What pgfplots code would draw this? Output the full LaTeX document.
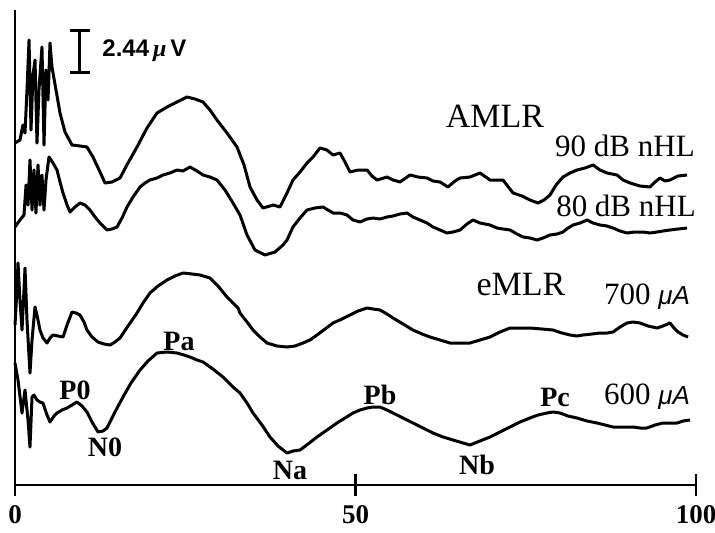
\documentclass[border=0pt]{standalone}
\usepackage{fontspec}
\setmainfont{Liberation Serif}
\setsansfont{Liberation Sans}
\usepackage{pgfplots}
\pgfplotsset{compat=1.18}

% traces: time (ms) vs. display offset (y in plot units, 42 units = 2.44 uV)
\pgfplotstableread{
x y
0 342
0.73 345
1.17 360
1.47 352
1.76 395
2.06 445
2.35 355
2.64 410
2.94 425
3.23 342
3.52 395
3.96 438
4.26 340
4.55 415
4.85 385
5.14 442
5.43 418
6.02 395
6.61 372
7.34 353
8.37 340
9.54 339
10.57 338
11.45 328
12.48 313
13.22 302
14.24 303
15.42 307
16.59 322
17.92 338
19.38 357
20.85 372
22.32 378
23.79 383
25.26 388
26.43 386
27.61 383
28.63 375
29.66 365
31.13 352
32.60 338
33.63 320
34.51 298
35.54 285
36.42 277
37.44 279
37.89 280
38.91 278
39.94 292
40.82 305
41.85 313
42.88 322
43.76 328
44.79 337
45.81 335
46.70 330
47.72 332
48.46 323
49.19 313
50.37 315
51.69 315
52.42 309
53.16 305
54.63 308
55.51 305
56.53 303
58.00 310
59.18 308
60.50 307
61.38 304
62.41 303
63.58 298
64.61 304
65.35 307
66.81 308
68.28 312
69.75 305
71.66 305
73.13 292
74.45 289
75.62 285
76.80 282
77.68 285
78.56 290
79.44 300
80.47 308
81.50 312
82.53 315
83.70 317
84.88 320
85.90 315
86.93 312
88.40 310
89.28 305
90.31 302
91.78 299
93.25 298
93.98 303
94.71 307
95.45 304
96.18 305
97.36 309
98.68 310
}\dbninety

\pgfplotstableread{
x y
0 258
0.73 265
1.32 270
1.62 300
1.91 280
2.20 325
2.50 275
2.79 315
3.08 272
3.38 320
3.67 280
3.96 310
4.26 275
4.55 305
4.99 328
5.58 322
6.17 315
6.61 303
7.05 292
7.64 280
8.08 273
8.81 278
9.54 282
10.28 280
11.01 275
11.75 268
12.48 262
13.51 255
14.24 256
14.98 258
15.71 267
16.45 278
17.33 288
18.36 298
19.09 302
19.82 305
20.85 307
21.73 310
22.76 312
23.79 315
24.67 314
25.70 318
26.73 314
27.61 310
28.63 308
29.66 305
30.84 295
32.01 282
33.04 270
34.07 250
35.24 235
36.71 230
38.18 233
39.35 240
39.94 245
40.82 258
41.85 267
42.88 275
44.05 277
45.23 278
45.96 275
46.70 272
47.72 272
48.75 270
49.63 265
50.66 263
51.69 266
52.57 267
53.60 266
54.63 268
55.51 269
56.53 271
57.56 272
58.44 268
59.47 265
60.50 262
61.38 258
62.41 255
63.44 252
64.32 253
65.35 255
66.37 261
67.25 265
68.28 262
69.75 260
70.78 257
71.66 256
72.69 255
73.72 251
74.60 248
75.62 247
76.65 245
77.53 247
78.56 250
79.59 251
80.47 253
81.20 257
81.94 260
82.97 262
84.00 265
84.88 262
85.90 260
86.93 259
87.81 257
88.84 254
89.87 252
91.04 253
92.22 253
93.25 252
94.27 253
95.15 254
96.18 255
97.36 256
98.68 257
}\dbeighty

\pgfplotstableread{
x y
0 160
0.29 195
0.44 222
0.73 185
1.03 155
1.32 195
1.47 217
1.76 165
2.20 112
2.50 145
2.94 178
3.23 170
3.67 155
4.11 147
4.70 142
5.14 147
5.58 150
6.31 149
7.05 148
7.64 160
8.37 173
8.96 172
9.54 170
10.13 163
10.57 155
11.31 148
12.19 143
13.07 141
13.95 140
14.68 143
15.42 147
16.59 159
17.92 172
18.80 182
19.82 192
21.00 199
22.32 205
23.49 209
24.67 212
25.99 211
27.17 210
28.63 207
29.81 199
31.13 188
32.75 177
33.04 172
34.07 163
34.95 155
35.98 148
37.00 142
38.47 139
39.94 138
41.12 139
42.29 142
43.32 145
44.35 150
45.52 156
46.70 162
48.02 166
49.19 170
50.37 174
51.69 177
52.57 176
53.60 175
54.63 171
55.51 167
56.98 161
58.44 155
59.77 151
60.94 148
62.41 145
63.88 142
65.35 142
66.81 142
68.28 145
69.75 148
71.22 153
72.69 157
74.16 157
75.62 157
77.39 156
79.00 155
80.32 152
81.50 150
82.53 149
83.41 150
84.73 151
85.90 152
86.93 152
87.81 153
88.84 158
89.87 162
90.75 163
91.78 162
92.95 159
94.27 157
95.15 159
96.18 162
96.77 157
97.36 153
98.09 150
98.83 148
}\uaseven

\pgfplotstableread{
x y
0 122
0.44 105
1.03 72
1.47 95
1.91 65
2.20 38
2.50 88
2.79 90
3.23 85
3.67 83
4.11 82
4.70 70
5.14 63
5.73 69
6.17 72
6.90 75
7.64 77
8.37 80
9.10 83
9.84 79
10.57 73
11.31 63
12.19 53
12.92 54
13.51 57
14.68 73
15.86 88
17.03 102
18.36 115
19.53 124
20.85 132
22.32 133
23.79 132
24.82 130
25.70 128
26.73 125
27.61 123
29.07 116
30.54 108
32.01 98
33.04 92
34.07 82
34.95 72
36.27 60
37.44 48
38.62 39
39.94 32
40.82 34
41.85 35
43.02 41
44.35 48
45.81 55
47.28 62
48.46 67
49.63 72
50.66 75
51.69 77
52.57 78
53.60 78
54.63 75
55.51 72
56.98 67
58.44 62
59.91 57
61.38 52
62.85 48
64.32 45
65.79 42
66.81 40
68.28 44
69.75 48
71.22 53
72.69 58
74.16 63
75.62 67
76.80 70
78.12 72
79.00 73
80.03 72
81.20 69
82.53 67
84.00 64
85.46 62
86.64 60
87.81 58
89.28 58
90.75 58
91.78 57
92.80 57
93.98 60
95.15 62
96.18 62
97.21 62
98.09 64
99.12 65
}\uasix

\begin{document}
\begin{tikzpicture}[peak/.style={font=\fontsize{14}{14}\selectfont\bfseries}]
\path[use as bounding box] (-7.5pt,-23.5pt) rectangle (350pt,242.5pt);
\begin{axis}[
    scale only axis,
    width=340.5pt, height=237.5pt,
    xmin=0, xmax=100,
    ymin=0, ymax=475,
    axis x line=bottom,
    axis y line=left,
    axis line style={-, line width=1.3pt},
    xtick={0,50,100},
    xticklabels={0,50,100},
    ytick=\empty,
    tick align=center,
    major tick length=11pt,
    tick style={line width=1.3pt, black},
    xticklabel style={font=\fontsize{13.5}{14}\selectfont\bfseries, yshift=-1pt},
    clip=false,
    trace/.style={black, line width=1.5pt, line join=round, mark=none},
]
\addplot[trace] table {\dbninety};
\addplot[trace] table {\dbeighty};
\addplot[trace] table {\uaseven};
\addplot[trace] table {\uasix};

% scale bar (42 units = 2.44 uV)
\addplot[trace] coordinates {(9.54,413) (9.54,455)};
\addplot[trace] coordinates {(8.08,455) (11.01,455)};
\addplot[trace] coordinates {(8.08,413) (11.01,413)};
\node[anchor=west, font=\fontsize{12}{12}\selectfont\sffamily\bfseries] at (axis cs:11.8,434) {2.44\,\textit{\rmfamily μ}\,V};

\node[font=\fontsize{17}{17}\selectfont] at (axis cs:70.48,369) {AMLR};
\node[font=\fontsize{15.5}{16}\selectfont] at (axis cs:89.57,339) {90 dB nHL};
\node[font=\fontsize{15.5}{16}\selectfont] at (axis cs:89.72,279) {80 dB nHL};
\node[font=\fontsize{17}{17}\selectfont] at (axis cs:74.30,200) {eMLR};
\node[font=\fontsize{15.5}{16}\selectfont] at (axis cs:92.8,188) {700 {\sffamily\itshape\fontsize{13}{13}\selectfont μA}};
\node[font=\fontsize{15.5}{16}\selectfont] at (axis cs:92.8,88) {600 {\sffamily\itshape\fontsize{13}{13}\selectfont μA}};

\node[peak] at (axis cs:8.81,95) {P0};
\node[peak] at (axis cs:13.22,38) {N0};
\node[peak] at (axis cs:24.08,144) {Pa};
\node[peak] at (axis cs:40.38,15) {Na};
\node[peak] at (axis cs:53.60,90) {Pb};
\node[peak] at (axis cs:67.84,20) {Nb};
\node[peak] at (axis cs:79.30,88) {Pc};
\end{axis}
\end{tikzpicture}
\end{document}
